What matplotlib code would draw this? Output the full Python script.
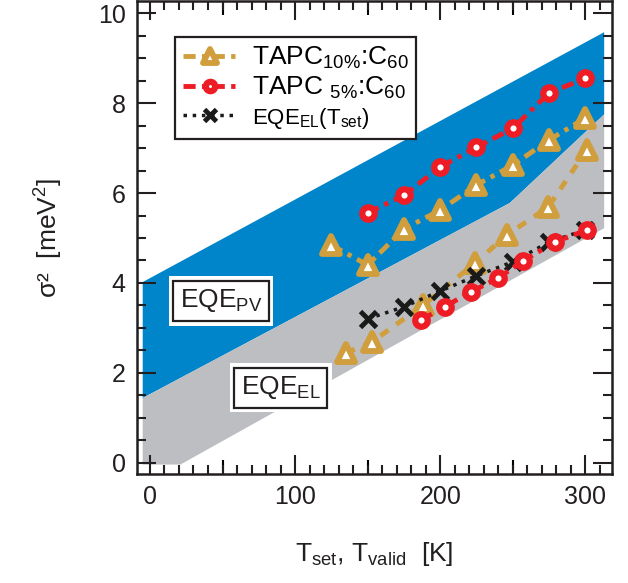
import matplotlib
matplotlib.use("Agg")
import matplotlib.pyplot as plt
from matplotlib.markers import MarkerStyle
from matplotlib.ticker import MultipleLocator

plt.rcParams['font.family'] = ['Liberation Sans', 'DejaVu Sans']
plt.rcParams['mathtext.fontset'] = 'custom'
plt.rcParams['mathtext.rm'] = 'Liberation Sans'
plt.rcParams['mathtext.it'] = 'Liberation Sans'
plt.rcParams['mathtext.default'] = 'regular'

# bande EQE_PV (blu) e EQE_EL (grigia): vertici dei poligoni
pv_T = [-5, 313, 313, 248, -5]
pv_s2 = [4.02, 9.58, 7.75, 5.78, 1.44]
el_T = [-5, 248, 313, 313, 21, -5]
el_s2 = [1.44, 5.78, 7.75, 5.22, -0.04, -0.04]

# TAPC 10%:C60
t10_hi_T = [125, 150, 175, 200, 225, 250, 275, 300]
t10_hi_s2 = [4.84, 4.40, 5.20, 5.62, 6.18, 6.62, 7.18, 7.67]
t10_lo_T = [135, 153, 188, 224, 246, 274.5, 301]
t10_lo_s2 = [2.44, 2.69, 3.50, 4.44, 5.07, 5.69, 6.96]

# TAPC 5%:C60
t5_hi_T = [150, 175, 200, 225, 250, 275, 300]
t5_hi_s2 = [5.56, 5.95, 6.58, 7.02, 7.44, 8.23, 8.55]
t5_lo_T = [187, 203, 221, 240, 257, 279, 301]
t5_lo_s2 = [3.18, 3.47, 3.80, 4.11, 4.49, 4.91, 5.18]

# EQE_EL(T_set)
el_set_T = [150, 175, 200, 225, 250, 275, 300]
el_set_s2 = [3.20, 3.47, 3.82, 4.16, 4.47, 4.91, 5.18]

gold = '#D09E3C'
red = '#EE1D25'
blue = '#0085CA'
grey = '#BDBEC1'

fig = plt.figure(figsize=(6.28, 5.83), dpi=100)
ax = fig.add_axes([0.218, 0.187, 0.757, 0.811])

ax.fill(pv_T, pv_s2, color=blue, lw=0, zorder=1)
ax.fill(el_T, el_s2, color=grey, lw=0, zorder=1)

tri = dict(marker=MarkerStyle('^', joinstyle='round'), ms=13, mfc='white', mec=gold, mew=4.2)
circ = dict(marker='o', ms=9, mfc='white', mec=red, mew=4.5)

l10, = ax.plot(t10_hi_T, t10_hi_s2, color=gold, lw=3.5, dashes=(2.5, 1.3, 0.9, 1.3), zorder=3, **tri)
ax.plot(t10_lo_T, t10_lo_s2, color=gold, lw=3.5, dashes=(2, 2), zorder=3, **tri)
lx, = ax.plot(el_set_T, el_set_s2, color='#1a1a1a', lw=2.5, ls=':', marker='x', ms=11, mew=3.5, zorder=4)
l5, = ax.plot(t5_hi_T, t5_hi_s2, color=red, lw=3.5, dashes=(2.5, 1.3, 0.9, 1.3), zorder=5, **circ)
ax.plot(t5_lo_T, t5_lo_s2, color=red, lw=3.5, dashes=(2.5, 1.3, 0.9, 1.3), zorder=5, **circ)

# riquadri EQE
for x, y, s in [(49, 3.6, 'EQE$_{PV}$'), (90, 1.67, 'EQE$_{EL}$')]:
    ax.text(x, y, s, fontsize=19, ha='center', va='center', color='none', zorder=6,
            bbox=dict(boxstyle='square,pad=0.42', fc='white', ec='white', lw=0))
    ax.text(x, y, s, fontsize=19, ha='center', va='center', color='#231f20', zorder=7,
            bbox=dict(boxstyle='square,pad=0.25', fc='white', ec='#231f20', lw=1.6))

leg = ax.legend([l10, l5, lx],
                ['TAPC$_{10\\%}$:C$_{60}$', 'TAPC $_{5\\%}$:C$_{60}$', 'EQE$_{EL}$(T$_{set}$)'],
                loc='upper left', bbox_to_anchor=(0.053, 0.952), fontsize=19,
                handlelength=2.0, handletextpad=0.6, labelspacing=0.15, borderpad=0.3,
                fancybox=False, framealpha=1, edgecolor='#231f20', markerscale=0.75)
leg.get_frame().set_linewidth(1.6)
leg.get_texts()[2].set_fontsize(16)
leg.set_zorder(8)

ax.set_xlim(-9, 318.6)
ax.set_ylim(-0.25, 10.27)
ax.xaxis.set_major_locator(MultipleLocator(100))
ax.xaxis.set_minor_locator(MultipleLocator(10))
ax.yaxis.set_major_locator(MultipleLocator(2))
ax.yaxis.set_minor_locator(MultipleLocator(0.5))
ax.tick_params(which='both', direction='in', top=True, right=True, width=1.5,
               labelsize=18, colors='#231f20', pad=8)
ax.tick_params(which='major', length=14)
ax.tick_params(which='minor', length=6.5)

# tacche intermedie ogni 50 K
for side in ['bottom', 'top']:
    sec = ax.secondary_xaxis(side)
    sec.set_xticks([50, 150, 250])
    sec.tick_params(direction='in', length=10, width=1.5, labelbottom=False, labeltop=False)
    sec.spines[side].set_visible(False)

for sp in ax.spines.values():
    sp.set_linewidth(1.8)
    sp.set_color('#231f20')
    sp.set_zorder(10)

ax.set_xlabel('T$_{set}$, T$_{valid}$  [K]', fontsize=19, color='#231f20', labelpad=22)
ax.set_ylabel('σ²  [meV$^{2}$]', fontsize=19, color='#231f20', labelpad=24)

fig.savefig('out.png', dpi=100)
